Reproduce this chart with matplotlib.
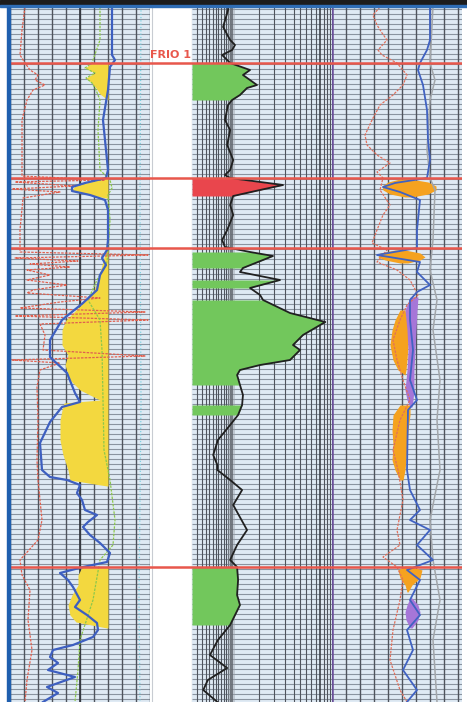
import numpy as np
import matplotlib.pyplot as plt
from matplotlib.patches import Rectangle

# ---- log data (depth = row of the log, top down) ----

# track 1: SP-like blue curve, red dotted resistivity, green dotted curve
sp_depth = [7, 55, 60, 67, 90, 120, 150, 170, 178, 183, 187, 191, 195, 200, 210, 240,
            250, 258, 265, 275, 290, 303, 320, 340, 357, 373, 393, 402, 407, 422, 443,
            470, 477, 480, 485, 493, 500, 510, 515, 522, 527, 535, 543, 553, 562, 567,
            573, 580, 587, 600, 607, 615, 623, 630, 637, 645, 650, 657, 663, 670, 677,
            687, 693, 702]
sp_val = [112, 112, 115, 110, 108, 103, 106, 108, 106, 85, 72, 72, 90, 105, 108, 108,
          107, 102, 106, 100, 97, 83, 62, 50, 50, 67, 75, 80, 62, 50, 40,
          42, 50, 67, 80, 77, 82, 85, 97, 88, 83, 90, 100, 110, 107, 83,
          60, 68, 73, 80, 75, 87, 97, 98, 93, 73, 53, 50, 58, 48, 75,
          47, 58, 43]

res1_depth = [7, 30, 55, 63, 70, 75, 80, 85, 90, 100, 120, 150, 176, 180, 182, 186,
              189, 192, 198, 230, 252, 255, 258, 261, 264, 267, 270, 275, 280, 285,
              290, 293, 298, 302, 308, 312, 316, 320, 324, 335, 350, 356, 360, 363,
              370, 387, 420, 460, 480, 500, 520, 540, 560, 575, 590, 620, 650, 680, 702]
res1_val = [25, 22, 20, 25, 30, 38, 35, 45, 33, 27, 22, 22, 22, 105, 15, 75,
            12, 60, 23, 20, 20, 148, 15, 78, 30, 70, 27, 50, 27, 67,
            33, 27, 100, 60, 20, 145, 15, 148, 40, 45, 43, 145, 12, 60,
            40, 37, 38, 37, 38, 40, 42, 38, 20, 22, 30, 28, 32, 27, 25]

gr_depth = [7, 40, 63, 68, 73, 78, 83, 90, 100, 130, 170, 180, 188, 195, 220, 250,
            262, 280, 300, 320, 350, 400, 450, 480, 520, 545, 560, 600, 640, 670, 702]
gr_val = [100, 100, 92, 85, 95, 86, 92, 96, 100, 98, 100, 110, 112, 108, 110, 108,
          107, 97, 88, 100, 102, 103, 104, 110, 115, 113, 100, 93, 80, 78, 75]

cal_depth = [7, 200, 400, 600, 702]
cal_val = [141, 140, 141, 139, 140]

sand_cut = 108
sand_zones = [
    ([63, 68, 73, 78, 83, 88, 94, 100], [92, 85, 95, 86, 92, 96, 100, 108]),
    ([178, 182, 186, 190, 194, 198], [106, 90, 75, 72, 85, 106]),
    ([250, 265, 280, 290, 300, 310, 320, 330, 345, 355, 365, 380, 390, 396, 400, 403,
      410, 420, 440, 455, 470, 480, 486],
     [106, 102, 98, 94, 86, 76, 66, 62, 62, 68, 65, 70, 80, 92, 100, 64,
      62, 60, 60, 63, 68, 70, 107]),
    ([567, 575, 585, 595, 605, 615, 622, 628], [82, 78, 78, 72, 68, 70, 76, 107]),
]

# track 2: deep resistivity (ohm.m, log scale)
rt_depth = [7, 10, 27, 40, 45, 50, 55, 60, 63, 70, 75, 85, 88, 95, 100, 105, 120, 130,
            145, 160, 170, 175, 178, 185, 190, 196, 205, 215, 230, 240, 247, 252, 256,
            268, 272, 280, 288, 295, 300, 313, 322, 335, 345, 350, 360, 365, 370, 375,
            385, 395, 405, 415, 425, 440, 455, 465, 470, 480, 490, 505, 530, 545, 560,
            567, 580, 595, 605, 625, 640, 655, 668, 680, 690, 702]
rt_val = [0.90, 0.90, 0.79, 0.95, 1.08, 1.0, 0.77, 0.88, 0.95, 1.60, 1.33, 1.92, 1.48,
          1.23, 1.0, 0.90, 0.83, 0.95, 0.88, 1.03, 0.95, 0.83, 0.95, 3.80, 2.08, 1.03,
          0.95, 1.03, 0.88, 0.77, 0.83, 1.60, 2.92, 1.33, 1.23, 3.51, 1.60, 2.08, 2.25,
          4.56, 11.5, 6.41, 4.93, 5.93, 4.56, 2.08, 1.23, 1.14, 1.23, 1.33, 1.30, 1.17,
          0.95, 0.69, 0.61, 0.68, 0.68, 0.95, 1.30, 1.03, 1.48, 1.14, 0.95, 1.14, 1.17,
          1.14, 1.23, 0.95, 0.69, 0.56, 0.88, 0.53, 0.47, 0.68]

pay_zones = [(63, 100, 'gas'), (178, 196, 'oil'), (252, 268, 'gas'), (280, 288, 'gas'),
             (300, 385, 'gas'), (405, 415, 'gas'), (567, 625, 'gas')]

# track 3: porosity-type curves
den_depth = [7, 15, 25, 33, 40, 50, 55, 63, 75, 85, 95, 105, 120, 135, 145, 155, 163,
             172, 178, 190, 205, 215, 230, 243, 250, 262, 270, 280, 295, 305, 320, 340,
             360, 380, 400, 420, 450, 470, 500, 530, 545, 557, 567, 580, 600, 630, 660,
             690, 702]
den_val = [380, 373, 377, 382, 387, 378, 382, 397, 407, 403, 393, 380, 372, 365, 367,
           377, 390, 377, 383, 380, 390, 383, 377, 372, 387, 377, 397, 410, 418, 407,
           400, 393, 397, 403, 410, 400, 393, 398, 403, 397, 400, 383, 397, 403, 400,
           393, 390, 400, 407]

neu_depth = [7, 40, 50, 63, 70, 85, 110, 140, 160, 178, 183, 187, 192, 200, 230, 248,
             255, 262, 272, 285, 292, 300, 320, 350, 380, 400, 410, 470, 490, 510, 520,
             530, 545, 560, 570, 580, 600, 615, 630, 650, 670, 690, 702]
neu_val = [430, 430, 427, 420, 418, 423, 427, 428, 430, 427, 395, 383, 400, 420, 417,
           417, 377, 420, 417, 430, 417, 410, 410, 413, 410, 417, 408, 407, 410, 420,
           410, 430, 417, 433, 407, 420, 410, 420, 407, 413, 403, 417, 407]

sonic_depth = [7, 63, 80, 100, 150, 178, 190, 240, 270, 300, 330, 380, 420, 470, 520,
               560, 600, 640, 702]
sonic_val = [433, 430, 435, 430, 427, 430, 435, 433, 430, 437, 433, 440, 437, 440, 430,
             433, 440, 433, 437]

gas_xover = [
    ([179, 182, 186, 190, 194, 197], [400, 388, 382, 383, 390, 405], [410, 428, 436, 436, 428, 412]),
    ([250, 253, 257, 260, 263], [395, 380, 378, 385, 400], [405, 420, 425, 420, 408]),
    ([310, 320, 330, 345, 360, 370, 375], [400, 395, 392, 390, 393, 398, 405], [405, 407, 408, 408, 407, 406, 405]),
    ([405, 415, 430, 445, 460, 470, 480], [400, 393, 392, 393, 392, 395, 400], [410, 410, 408, 407, 406, 405, 403]),
    ([566, 570, 578, 585, 592], [405, 398, 400, 405, 407], [410, 422, 420, 412, 408]),
]
shale_xover = [
    ([297, 310, 330, 350, 370, 390, 400, 407], [410, 405, 407, 408, 407, 405, 407, 410],
     [418, 417, 416, 415, 414, 414, 413, 412]),
    ([598, 605, 612, 620, 628], [410, 407, 405, 406, 410], [412, 418, 420, 418, 412]),
]

tops = [63, 178, 248, 567]
top_names = {63: 'FRIO 1'}
caliper_line = 332

TOP, BASE = 7, 702
W, H = 467, 702
fig = plt.figure(figsize=(W / 100, H / 100), dpi=100)
fig.patch.set_facecolor('white')

GRID_BG = '#dfeaf4'
HLINE = '#8a94a0'
VLINE = '#4f545d'
TOP_RED = '#e8574c'


def add_track(x0, x1, bg=GRID_BG):
    ax = fig.add_axes([x0 / W, 1 - BASE / H, (x1 - x0) / W, (BASE - TOP) / H])
    ax.set_facecolor(bg)
    ax.set_ylim(BASE, TOP)
    ax.set_xticks([])
    ax.set_yticks([])
    for s in ax.spines.values():
        s.set_visible(False)
    return ax


def depth_lines(ax):
    ax.hlines(np.arange(TOP + 2, BASE, 5), 0, 1, transform=ax.get_yaxis_transform(),
              color=HLINE, lw=0.8, zorder=1)


# track 1
ax1 = add_track(10, 150)
ax1.set_xlim(10, 150)
depth_lines(ax1)
ax1.vlines(np.arange(10, 151, 14), TOP, BASE, color=VLINE, lw=1.0, zorder=1)
ax1.vlines([80], TOP, BASE, color='#30343b', lw=1.2, zorder=1)
for d, left in sand_zones:
    ax1.fill_betweenx(d, left, sand_cut, color='#f3d83f', lw=0, zorder=2)
ax1.plot(cal_val, cal_depth, color='#7fd0e0', lw=0.9, ls=':', zorder=3)
ax1.plot(res1_val, res1_depth, color='#e0604f', lw=0.9, ls=(0, (2, 1)), zorder=3)
ax1.plot(gr_val, gr_depth, color='#8cc84b', lw=0.9, ls=(0, (2, 1)), zorder=3)
ax1.plot(sp_val, sp_depth, color='#3d5fc0', lw=1.6, zorder=4)

# depth column
axd = add_track(150, 192, bg='white')
axd.set_xlim(0, 42)
axd.axvline(2, color='#c8ccd2', lw=0.8)
axd.axvline(41.5, color='#6a6f78', lw=0.8)

# track 2 (log)
ax2 = add_track(192, 332)
ax2.set_xscale('log')
ax2.set_xlim(0.35, 13.7)
ax2.set_xticks([])
ax2.set_xticks([], minor=True)
depth_lines(ax2)
minor = np.concatenate([np.arange(0.40, 1.0, 0.05), np.arange(2, 10), [11, 12, 13]])
ax2.vlines(minor, TOP, BASE, color=VLINE, lw=0.8, zorder=1)
ax2.vlines([1.0, 10.0], TOP, BASE, color='#30343b', lw=1.1, zorder=1)
ax2.axvspan(0.9, 1.08, color='#9aa0a8', alpha=0.45, lw=0, zorder=1)
rt_d = np.array(rt_depth)
for top, bot, kind in pay_zones:
    m = (rt_d >= top) & (rt_d <= bot)
    ax2.fill_betweenx(rt_depth, 0.35, rt_val, where=m,
                      color='#72c75c' if kind == 'gas' else '#e9464d', lw=0, zorder=2)
ax2.plot(rt_val, rt_depth, color='#202020', lw=1.3, zorder=4)

# track 3
ax3 = add_track(332, 462)
ax3.set_xlim(332, 462)
depth_lines(ax3)
ax3.vlines(np.arange(346, 462, 14), TOP, BASE, color=VLINE, lw=1.0, zorder=1)
for d, l, r in gas_xover:
    ax3.fill_betweenx(d, l, r, color='#f5a21f', lw=0, zorder=2)
for d, l, r in shale_xover:
    ax3.fill_betweenx(d, l, r, color='#a676d8', lw=0, zorder=2)
ax3.axvline(caliper_line, color='#6b4f9a', lw=1.8, zorder=3)
ax3.plot(sonic_val, sonic_depth, color='#a2a6aa', lw=1.1, zorder=3)
ax3.plot(den_val, den_depth, color='#e0705c', lw=0.9, ls=(0, (2, 1)), zorder=3)
ax3.plot(neu_val, neu_depth, color='#4062c2', lw=1.3, zorder=4)

# formation tops across all tracks
for ax in (ax1, axd, ax2, ax3):
    for t in tops:
        ax.axhline(t, color=TOP_RED, lw=1.8, zorder=5)
for t, name in top_names.items():
    axd.text(21, t - 3, name, color=TOP_RED, fontsize=8, fontweight='bold',
             ha='center', va='bottom', zorder=6)

# frame: dark bar on top, blue border on the left
fig.patches.append(Rectangle((0, 1 - 5 / H), 1, 5 / H, transform=fig.transFigure,
                             color='#1c1c1c', zorder=10))
fig.patches.append(Rectangle((0, 1 - 7 / H), 1, 2 / H, transform=fig.transFigure,
                             color='#2f6db5', zorder=10))
fig.patches.append(Rectangle((7 / W, 0), 3 / W, 1 - 7 / H, transform=fig.transFigure,
                             color='#1f5fae', zorder=10))

fig.savefig('out.png', dpi=100)
